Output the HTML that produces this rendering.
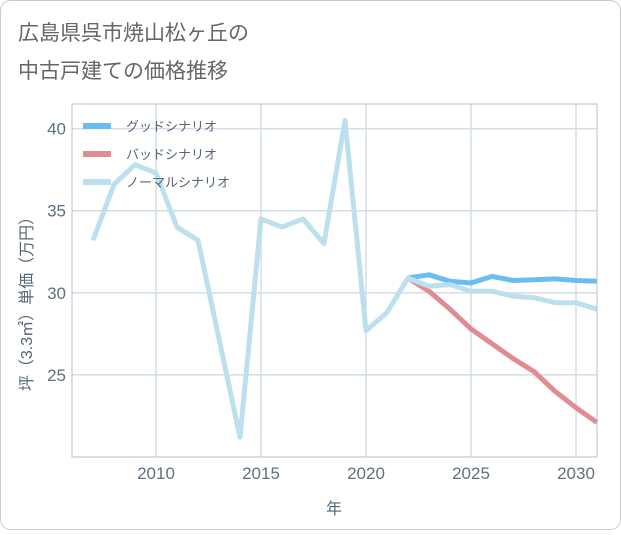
<!DOCTYPE html>
<html><head><meta charset="utf-8">
<style>
body{margin:0;background:#fff;}
#wrap{position:relative;width:621px;height:530px;font-family:"Liberation Sans","Noto Sans CJK JP",sans-serif;}
</style></head>
<body>
<div id="wrap">
<svg id="chart" width="621" height="530" xmlns="http://www.w3.org/2000/svg">
  <rect x="0.5" y="0.5" width="620" height="529" rx="10" fill="#fff" stroke="#ccc"/>
  <text x="18" y="40" font-size="21" fill="#666" font-family="Liberation Sans, Noto Sans CJK JP, sans-serif">広島県呉市焼山松ヶ丘の</text>
  <text x="18" y="78" font-size="21" fill="#666" font-family="Liberation Sans, Noto Sans CJK JP, sans-serif">中古戸建ての価格推移</text>
  <g id="grid"></g>
  <g id="series"></g>
  <g id="axes"></g>
  <g id="legend"></g>
</svg>
</div>
<script>
const years=[2007,2008,2009,2010,2011,2012,2013,2014,2015,2016,2017,2018,2019,2020,2021,2022,2023,2024,2025,2026,2027,2028,2029,2030,2031];
const normalValues=[33.2,36.6,37.8,37.3,34.0,33.2,27.2,21.2,34.5,34.0,34.5,33.0,40.5,27.7,28.8,30.9,30.4,30.5,30.1,30.1,29.8,29.7,29.4,29.4,29.0];
const goodYears=[2022,2023,2024,2025,2026,2027,2028,2029,2030,2031];
const goodValues=[30.9,31.1,30.7,30.6,31.0,30.75,30.8,30.85,30.75,30.7];
const badValues=[30.9,30.1,29.0,27.8,26.9,26.0,25.2,24.0,23.0,22.1];
const xTicks=[2010,2015,2020,2025,2030];
const yTicks=[25,30,35,40];
const seriesNames=["グッドシナリオ","バッドシナリオ","ノーマルシナリオ"];

const L=72,R=597,T=104,B=457;
const xMin=2006,xMax=2031,yMin=20,yMax=41.5;
const xs=v=>L+(v-xMin)/(xMax-xMin)*(R-L);
const ys=v=>B-(v-yMin)/(yMax-yMin)*(B-T);
const NS="http://www.w3.org/2000/svg";
function mk(tag,attrs,parent){const e=document.createElementNS(NS,tag);for(const k in attrs)e.setAttribute(k,attrs[k]);parent.appendChild(e);return e;}

const grid=document.getElementById('grid');
xTicks.forEach(t=>{
  const l=mk('line',{x1:xs(t),x2:xs(t),y1:T,y2:B,stroke:'#d3dde8','stroke-width':1.5},grid);
  
  
});
yTicks.forEach(t=>{
  const l=mk('line',{x1:L,x2:R,y1:ys(t),y2:ys(t),stroke:'#d3dde8','stroke-width':1.5},grid);
  
  
});
const axes=document.getElementById('axes');
const frame=mk('rect',{x:L,y:T,width:R-L,height:B-T,fill:'none',stroke:'#b8c0c8','stroke-width':1},axes);


xTicks.forEach(t=>{
  const tx=mk('text',{x:xs(t),y:479,'text-anchor':'middle','font-size':17,fill:'#5f7080'},axes);
  tx.textContent=t;
  
  
});
yTicks.forEach(t=>{
  const tx=mk('text',{x:66,y:ys(t)+6,'text-anchor':'end','font-size':17,fill:'#5f7080'},axes);
  tx.textContent=t;
  
  
});
const xt=mk('text',{x:334,y:514,'text-anchor':'middle','font-size':16,fill:'#556677'},axes);
xt.textContent='年';


const yt=mk('text',{x:0,y:0,'text-anchor':'middle','font-size':16,fill:'#556677',transform:'translate(32,300) rotate(-90)'},axes);
yt.textContent='坪（3.3㎡）単価（万円）';



const series=document.getElementById('series');
function line(xv,yv,color,name){
  const d=xv.map((x,i)=>(i?'L':'M')+xs(x).toFixed(1)+','+ys(yv[i]).toFixed(1)).join(' ');
  const p=mk('path',{d:d,fill:'none',stroke:color,'stroke-width':5,'stroke-linejoin':'round'},series);
  
  
}
line(goodYears,goodValues,'#6bbcf0','good-scenario-line');
line(goodYears,badValues,'#e08c94','bad-scenario-line');
line(years,normalValues,'#bde0ee','normal-scenario-line');

const lg=document.getElementById('legend');
const cols=['#6bbcf0','#e08c94','#bde0ee'];
seriesNames.forEach((n,i)=>{
  const y=126+i*28;
  const s=mk('line',{x1:83,x2:111,y1:y,y2:y,stroke:cols[i],'stroke-width':6},lg);
  
  
  const t=mk('text',{x:126,y:y+5,'font-size':13,fill:'#556677'},lg);
  t.textContent=n;
  
  
});
</script>
</body></html>
